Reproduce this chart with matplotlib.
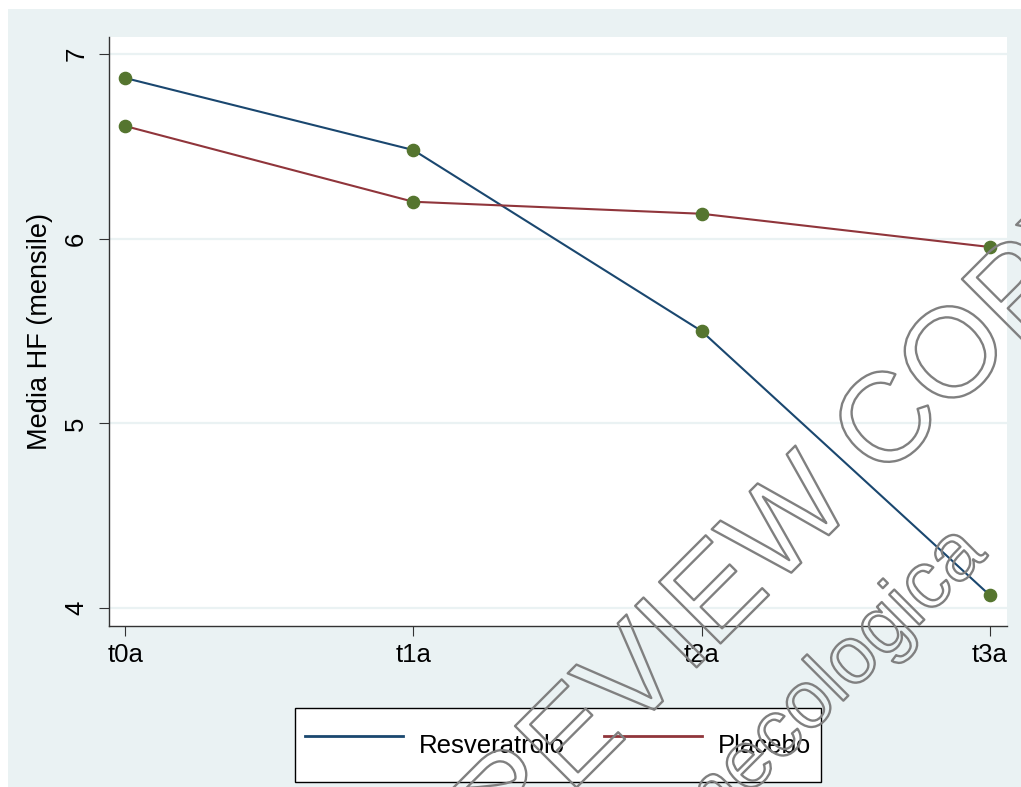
import matplotlib
matplotlib.use("Agg")
import matplotlib.pyplot as plt
from matplotlib.patches import Rectangle
from matplotlib import patheffects

plt.rcParams["font.family"] = ["Liberation Sans", "DejaVu Sans"]

# mean monthly HF per visit
times = ["t0a", "t1a", "t2a", "t3a"]
resveratrolo = [6.87, 6.48, 5.50, 4.07]
placebo = [6.61, 6.20, 6.135, 5.955]
yticks = [4, 5, 6, 7]

navy = "#1a476f"
maroon = "#90353b"
green = "#55752f"
bg = "#eaf2f3"

W, H = 1021, 787
fig = plt.figure(figsize=(W / 100, H / 100), dpi=100)
fig.patch.set_facecolor("white")
# graph region
fig.patches.append(Rectangle((8 / W, 0), 1 - 8 / W, 1 - 9 / H,
                             transform=fig.transFigure, facecolor=bg,
                             edgecolor="none", zorder=-5))

ax = fig.add_axes([109 / W, 1 - 626 / H, 898 / W, 589 / H])
ax.set_facecolor("white")

x = list(range(len(times)))
ax.plot(x, resveratrolo, color=navy, lw=1.5, label="Resveratrolo", zorder=3)
ax.plot(x, placebo, color=maroon, lw=1.5, label="Placebo", zorder=3)
ax.plot(x, resveratrolo, "o", color=green, ms=8.8, zorder=4)
ax.plot(x, placebo, "o", color=green, ms=8.8, zorder=4)

ax.set_xlim(-0.056, 3.06)
ax.set_ylim(3.903, 7.092)
ax.set_xticks(x)
ax.set_xticklabels(times)
ax.set_yticks(yticks)
ax.set_yticklabels([str(v) for v in yticks], rotation=90, va="center")
ax.yaxis.grid(True, color=bg, lw=1.6)
ax.set_axisbelow(True)

for s in ["top", "right"]:
    ax.spines[s].set_visible(False)
for s in ["left", "bottom"]:
    ax.spines[s].set_color("#333333")
    ax.spines[s].set_linewidth(1.0)
ax.tick_params(axis="both", direction="out", length=7, width=0.8,
               color="#333333", labelsize=18.5, labelcolor="black")
ax.tick_params(axis="y", pad=8)
ax.tick_params(axis="x", pad=5)
ax.set_ylabel("Media HF (mensile)", fontsize=19.5, labelpad=8)

leg = ax.legend(loc="center", bbox_to_anchor=(558 / W, 42 / H),
                bbox_transform=fig.transFigure, ncol=2, fontsize=18.5,
                frameon=True, fancybox=False, edgecolor="black",
                framealpha=1, handlelength=3.8, handletextpad=0.6,
                handleheight=2.8, columnspacing=1.55, borderpad=0.42)
leg.get_frame().set_linewidth(1.0)
for ln in leg.get_lines():
    ln.set_linewidth(2.0)

# outlined watermark
outline = [patheffects.Stroke(linewidth=1.7, foreground="#808080")]
fig.text(790 / W, 1 - 574 / H, "PREVIEW COPY", fontsize=91, rotation=45,
         rotation_mode="anchor", ha="center", va="baseline", color="none",
         path_effects=outline, zorder=10)
fig.text(988 / W, 1 - 556 / H, "Minerva Ginecologica", fontsize=58,
         rotation=45, rotation_mode="anchor", ha="right", va="baseline",
         color="none", path_effects=outline, zorder=10)

fig.savefig("out.png", dpi=100, facecolor="white")
